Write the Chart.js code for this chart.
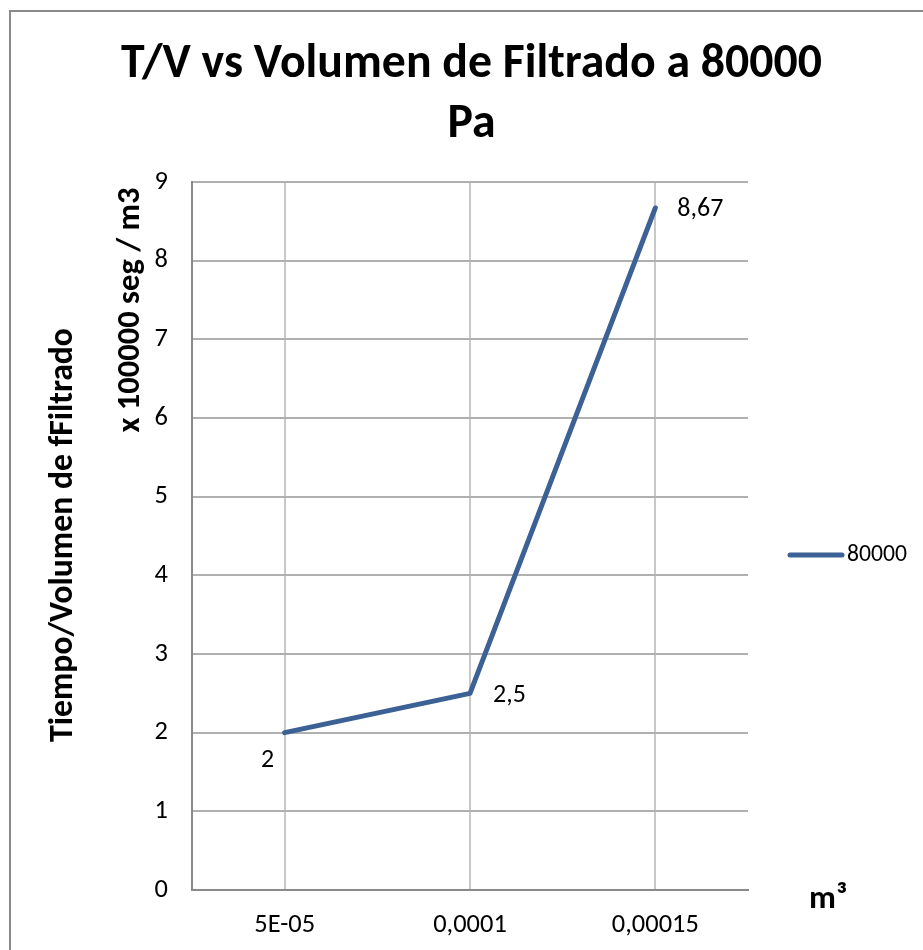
<!DOCTYPE html>
<html>
<head>
<meta charset="utf-8">
<script src="https://cdn.jsdelivr.net/npm/chart.js@4/dist/chart.umd.min.js"></script>
<style>
  html, body { margin: 0; padding: 0; background: #fff; overflow: hidden; }
  #marco { width: 923px; height: 950px; }
</style>
</head>
<body>
<div id="marco"><canvas id="grafico" width="923" height="950"></canvas></div>
<script>
// Datos del gráfico
var categorias = ["5E-05", "0,0001", "0,00015"];
var valores = [2, 2.5, 8.67];
var etiquetas = ["2", "2,5", "8,67"];
var nombreSerie = "80000";
var ejeYMin = 0;
var ejeYMax = 9;
var ejeYPaso = 1;
var titulo = ["T/V vs Volumen de Filtrado a 80000", "Pa"];
var tituloY = ["Tiempo/Volumen de fFiltrado", "x 100000 seg / m3"];
var tituloX = "m³";

var fuente = "Carlito, Calibri, Lato, 'Open Sans', sans-serif";
var azul = "#3b6195";

// tamaño de letra para que un texto ocupe el ancho que tiene en el original
var medidor = document.createElement("canvas").getContext("2d");
function tamano(texto, peso, ancho) {
    medidor.font = peso + " 100px " + fuente;
    return 100 * ancho / medidor.measureText(texto).width;
}
var tamTitulo = tamano(titulo[0], "bold", 701);
var tamY1 = tamano(tituloY[0], "bold", 414);
var tamY2 = tamano(tituloY[1], "bold", 245);
var tamTicks = tamano("0,00015", "normal", 87);
var tamEtiq = tamano("8,67", "normal", 46);
var tamLeyenda = tamano(nombreSerie, "normal", 60);
var tamX = tamano(tituloX, "bold", 38);

// Textos extra: borde, títulos, etiquetas de datos y leyenda
var extras = {
    id: "extras",
    beforeDraw: function(chart) {
        var ctx = chart.ctx;
        ctx.save();
        ctx.strokeStyle = "#8a8a8a";
        ctx.lineWidth = 2;
        ctx.strokeRect(10, 11, 2000, 2000);
        ctx.restore();
    },
    afterDraw: function(chart) {
        var ctx = chart.ctx;
        var area = chart.chartArea;
        ctx.save();
        ctx.fillStyle = "#000";

        // título
        ctx.textAlign = "center";
        ctx.textBaseline = "alphabetic";
        ctx.font = "bold " + tamTitulo + "px " + fuente;
        ctx.fillText(titulo[0], 471.5, 77);
        ctx.fillText(titulo[1], 471.5, 137);

        // título del eje Y (dos líneas, giradas)
        ctx.textBaseline = "middle";
        ctx.font = "bold " + tamY1 + "px " + fuente;
        ctx.save();
        ctx.translate(64, 535);
        ctx.rotate(-Math.PI / 2);
        ctx.fillText(tituloY[0], 0, 0);
        ctx.restore();
        ctx.font = "bold " + tamY2 + "px " + fuente;
        ctx.save();
        ctx.translate(131, 310);
        ctx.rotate(-Math.PI / 2);
        ctx.fillText(tituloY[1], 0, 0);
        ctx.restore();

        // título del eje X
        ctx.font = "bold " + tamX + "px " + fuente;
        ctx.fillText(tituloX, 828, 900);

        // etiquetas de datos
        var meta = chart.getDatasetMeta(0);
        var despl = [
            { dx: -17, dy: 28, al: "center" },
            { dx: 23, dy: 2, al: "left" },
            { dx: 22, dy: 2, al: "left" }
        ];
        ctx.font = tamEtiq + "px " + fuente;
        meta.data.forEach(function(p, i) {
            ctx.textAlign = despl[i].al;
            ctx.fillText(etiquetas[i], p.x + despl[i].dx, p.y + despl[i].dy);
        });

        // leyenda
        var ly = 555;
        ctx.strokeStyle = azul;
        ctx.lineWidth = 5;
        ctx.lineCap = "round";
        ctx.beginPath();
        ctx.moveTo(area.right + 42, ly);
        ctx.lineTo(area.right + 94, ly);
        ctx.stroke();
        ctx.textAlign = "left";
        ctx.font = tamLeyenda + "px " + fuente;
        ctx.fillText(chart.data.datasets[0].label, area.right + 99, ly);
        ctx.restore();
    }
};

new Chart(document.getElementById("grafico"), {
    type: "line",
    data: {
        labels: categorias,
        datasets: [{
            label: nombreSerie,
            data: valores,
            borderColor: azul,
            backgroundColor: azul,
            borderWidth: 5,
            borderCapStyle: "round",
            borderJoinStyle: "round",
            pointRadius: 0,
            tension: 0,
            fill: false
        }]
    },
    options: {
        responsive: false,
        animation: false,
        layout: { padding: { top: 182, right: 175, left: 0, bottom: 0 } },
        plugins: {
            legend: { display: false },
            title: { display: false },
            tooltip: { enabled: false }
        },
        scales: {
            x: {
                type: "category",
                offset: true,
                grid: { color: "#c8c8c8", lineWidth: 2, drawTicks: false, offset: false },
                border: { color: "#8a8a8a", width: 2 },
                ticks: { padding: 20, color: "#000", font: { family: fuente, size: tamTicks }, maxRotation: 0 },
                afterFit: function(s) { s.height = 60; }
            },
            y: {
                min: ejeYMin,
                max: ejeYMax,
                grid: { color: "#b0b0b0", lineWidth: 2, drawTicks: false },
                border: { color: "#8a8a8a", width: 2 },
                ticks: { stepSize: ejeYPaso, padding: 24, color: "#000", font: { family: fuente, size: tamTicks } },
                afterFit: function(s) { s.width = 192; }
            }
        }
    },
    plugins: [extras]
});
</script>
</body>
</html>
